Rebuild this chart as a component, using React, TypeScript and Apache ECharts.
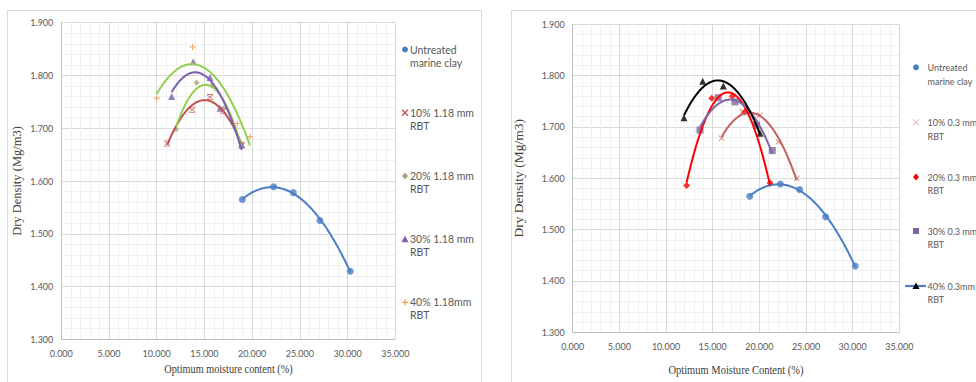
import React, { useEffect, useRef } from "react";
import * as echarts from "echarts";

// ---------- data ----------
const untreatedMoisture = [18.97, 22.25, 24.31, 27.1, 30.28];
const untreatedDensity = [1.565, 1.589, 1.578, 1.525, 1.429];

// left chart: 1.18 mm RBT
const l10Moisture = [11.1, 13.72, 15.58, 16.97, 18.9];
const l10Density = [1.671, 1.735, 1.759, 1.733, 1.668];
const l20Moisture = [12.02, 14.18, 15.8, 17.0, 18.9];
const l20Density = [1.698, 1.786, 1.781, 1.738, 1.67];
const l30Moisture = [11.56, 13.83, 15.58, 16.63, 18.9];
const l30Density = [1.76, 1.826, 1.796, 1.738, 1.668];
const l40Moisture = [10.0, 13.76, 15.75, 18.44, 19.77];
const l40Density = [1.757, 1.854, 1.781, 1.709, 1.684];

// right chart: 0.3 mm RBT
const r10Moisture = [15.96, 18.21, 20.07, 22.04, 24.0];
const r10Density = [1.678, 1.73, 1.723, 1.671, 1.6];
const r20Moisture = [12.21, 14.9, 17.1, 18.45, 21.15];
const r20Density = [1.586, 1.756, 1.76, 1.729, 1.591];
const r30Moisture = [13.64, 15.6, 17.39, 19.71, 21.39];
const r30Density = [1.694, 1.757, 1.749, 1.703, 1.654];
const r40Moisture = [11.93, 13.93, 16.14, 20.07];
const r40Density = [1.718, 1.789, 1.78, 1.688];

const leftLegend = [
  ["Untreated", "marine clay"],
  ["10% 1.18 mm", "RBT"],
  ["20% 1.18 mm", "RBT"],
  ["30% 1.18 mm", "RBT"],
  ["40% 1.18mm", "RBT"],
];
const rightLegend = [
  ["Untreated", "marine clay"],
  ["10% 0.3 mm", "RBT"],
  ["20% 0.3 mm", "RBT"],
  ["30% 0.3 mm", "RBT"],
  ["40% 0.3mm", "RBT"],
];
const leftXTitle = "Optimum moisture content (%)";
const rightXTitle = "Optimum Moisture Content (%)";
const yTitle = "Dry Density (Mg/m3)";

// ---------- helpers ----------
function zip(xs: number[], ys: number[]) {
  return xs.map((x, i) => [x, ys[i]]);
}

// least-squares polynomial trendline (as Excel's polynomial trendline)
function polyfit(xs: number[], ys: number[], deg: number) {
  const n = deg + 1;
  const A: number[][] = [];
  const b: number[] = [];
  for (let i = 0; i < n; i++) {
    A.push([]);
    for (let j = 0; j < n; j++) {
      let s = 0;
      for (const x of xs) s += Math.pow(x, i + j);
      A[i].push(s);
    }
    let t = 0;
    xs.forEach((x, k) => (t += ys[k] * Math.pow(x, i)));
    b.push(t);
  }
  for (let c = 0; c < n; c++) {
    let p = c;
    for (let r = c + 1; r < n; r++) if (Math.abs(A[r][c]) > Math.abs(A[p][c])) p = r;
    [A[c], A[p]] = [A[p], A[c]];
    [b[c], b[p]] = [b[p], b[c]];
    for (let r = c + 1; r < n; r++) {
      const f = A[r][c] / A[c][c];
      for (let k = c; k < n; k++) A[r][k] -= f * A[c][k];
      b[r] -= f * b[c];
    }
  }
  const coef = new Array(n).fill(0);
  for (let r = n - 1; r >= 0; r--) {
    let s = b[r];
    for (let k = r + 1; k < n; k++) s -= A[r][k] * coef[k];
    coef[r] = s / A[r][r];
  }
  return coef;
}
function trend(xs: number[], ys: number[], deg = 2) {
  const c = polyfit(xs, ys, deg);
  const lo = Math.min(...xs);
  const hi = Math.max(...xs);
  const out: number[][] = [];
  const steps = 80;
  for (let i = 0; i <= steps; i++) {
    const x = lo + ((hi - lo) * i) / steps;
    let y = 0;
    c.forEach((a, k) => (y += a * Math.pow(x, k)));
    out.push([x, y]);
  }
  return out;
}

const SYM_X = "path://M1,0L5,4L9,0L10,1L6,5L10,9L9,10L5,6L1,10L0,9L4,5L0,1Z";
const SYM_XBAR =
  "path://M0,0H10V1.3H0Z M0,8.7H10V10H0Z M1,1.3L5,4.2L9,1.3L10,2.3L6,5L10,7.7L9,8.7L5,5.8L1,8.7L0,7.7L4,5L0,2.3Z";
const SYM_PLUS = "path://M4,0H6V4H10V6H6V10H4V6H0V4H4Z";

const FONT = "Lato";
const LABEL_COLOR = "#595959";
const TITLE_COLOR = "#404040";
const BLUE = "#4a7ec3";

export default function App() {
  const ref = useRef<HTMLDivElement>(null);
  useEffect(() => {
    if (!ref.current) return;
    const chart = echarts.init(ref.current, undefined, { renderer: "svg" });

    const xAxisBase = (gridIndex: number) => ({
      type: "value",
      gridIndex,
      min: 0,
      max: 35,
      interval: 5,
      axisLine: { show: true, lineStyle: { color: "#bfbfbf" } },
      axisTick: { show: false },
      axisLabel: {
        formatter: (v: number) => v.toFixed(3),
        color: LABEL_COLOR,
        fontFamily: FONT,
        fontSize: 9,
        margin: 10,
      },
      splitLine: { show: true, lineStyle: { color: "#d9d9d9" } },
      minorTick: { show: false, splitNumber: 5 },
      minorSplitLine: { show: true, lineStyle: { color: "#f0f0f0" } },
    });
    const yAxisBase = (gridIndex: number, fs: number, gap: number) => ({
      type: "value",
      gridIndex,
      min: 1.3,
      max: 1.9,
      interval: 0.1,
      name: yTitle,
      nameLocation: "middle",
      nameGap: gap,
      nameRotate: 90,
      nameTextStyle: { fontFamily: "Liberation Serif", fontSize: fs, color: TITLE_COLOR },
      axisLine: { show: true, lineStyle: { color: "#bfbfbf" } },
      axisTick: { show: false },
      axisLabel: {
        formatter: (v: number) => v.toFixed(3),
        color: LABEL_COLOR,
        fontFamily: FONT,
        fontSize: 9,
        margin: 8,
      },
      splitLine: { show: true, lineStyle: { color: "#d9d9d9" } },
      minorTick: { show: false, splitNumber: 5 },
      minorSplitLine: { show: true, lineStyle: { color: "#f0f0f0" } },
    });

    const scatter = (idx: number, data: number[][], symbol: string, color: string, size = 6, name = "") => ({
      type: "scatter",
      name,
      xAxisIndex: idx,
      yAxisIndex: idx,
      data,
      symbol,
      symbolSize: size,
      itemStyle: { color },
      z: 3,
    });
    const line = (idx: number, data: number[][], color: string, width = 2) => ({
      type: "line",
      xAxisIndex: idx,
      yAxisIndex: idx,
      data,
      showSymbol: false,
      symbol: "none",
      lineStyle: { color, width },
      silent: true,
      z: 4,
    });

    // legend graphics
    const marker = (kind: string, cx: number, cy: number, color: string): any => {
      switch (kind) {
        case "circle":
          return { type: "circle", shape: { cx, cy, r: 3 }, style: { fill: color } };
        case "diamond":
          return { type: "polygon", shape: { points: [[cx, cy - 3.5], [cx + 3, cy], [cx, cy + 3.5], [cx - 3, cy]] }, style: { fill: color } };
        case "triangle":
          return { type: "polygon", shape: { points: [[cx, cy - 3.5], [cx + 3.5, cy + 3], [cx - 3.5, cy + 3]] }, style: { fill: color } };
        case "square":
          return { type: "rect", shape: { x: cx - 3, y: cy - 3, width: 6, height: 6 }, style: { fill: color } };
        case "x":
          return {
            type: "group",
            children: [
              { type: "line", shape: { x1: cx - 3, y1: cy - 3, x2: cx + 3, y2: cy + 3 }, style: { stroke: color, lineWidth: 1 } },
              { type: "line", shape: { x1: cx + 3, y1: cy - 3, x2: cx - 3, y2: cy + 3 }, style: { stroke: color, lineWidth: 1 } },
            ],
          };
        case "xbar":
          return {
            type: "group",
            children: [
              { type: "line", shape: { x1: cx - 3, y1: cy - 3, x2: cx + 3, y2: cy + 3 }, style: { stroke: color, lineWidth: 1.3 } },
              { type: "line", shape: { x1: cx + 3, y1: cy - 3, x2: cx - 3, y2: cy + 3 }, style: { stroke: color, lineWidth: 1.3 } },
            ],
          };
        case "plus":
          return {
            type: "group",
            children: [
              { type: "line", shape: { x1: cx - 3, y1: cy, x2: cx + 3, y2: cy }, style: { stroke: color, lineWidth: 1.2 } },
              { type: "line", shape: { x1: cx, y1: cy - 3, x2: cx, y2: cy + 3 }, style: { stroke: color, lineWidth: 1.2 } },
            ],
          };
        case "lineTriangle":
          return {
            type: "group",
            children: [
              { type: "line", shape: { x1: cx - 11, y1: cy, x2: cx + 10, y2: cy }, style: { stroke: BLUE, lineWidth: 2.2 } },
              { type: "polygon", shape: { points: [[cx, cy - 3.5], [cx + 3.5, cy + 3], [cx - 3.5, cy + 3]] }, style: { fill: "#000" } },
            ],
          };
      }
      return null;
    };
    const legendText = (x: number, y: number, lines: string[], lh: number, fs: number) =>
      lines.map((t, i) => ({
        type: "text",
        x,
        y: y + i * lh,
        style: { text: t, fill: LABEL_COLOR, font: `${fs}px ${FONT}`, verticalAlign: "middle", align: "left" },
      }));

    const leftKinds: [string, string][] = [
      ["circle", BLUE],
      ["xbar", "#c0504d"],
      ["diamond", "#aba27e"],
      ["triangle", "#7b5fb0"],
      ["plus", "#f79646"],
    ];
    const rightKinds: [string, string][] = [
      ["circle", BLUE],
      ["x", "#e3a1a0"],
      ["diamond", "#ff0000"],
      ["square", "#8064a2"],
      ["lineTriangle", "#000"],
    ];
    const leftY = [49.5, 112.7, 176, 239.3, 302.3];
    const rightY = [67.3, 122.3, 177, 231, 286];

    const graphics: any[] = [
      { type: "rect", shape: { x: 7.5, y: 10.5, width: 474, height: 390 }, style: { fill: "none", stroke: "#d9d9d9", lineWidth: 1 }, z: -10 },
      { type: "rect", shape: { x: 511.5, y: 10.5, width: 480, height: 390 }, style: { fill: "none", stroke: "#d9d9d9", lineWidth: 1 }, z: -10 },
      {
        type: "text",
        x: 228.5,
        y: 369,
        scaleX: 0.82,
        style: { text: leftXTitle, fill: TITLE_COLOR, font: "12.5px 'Liberation Serif'", align: "center", verticalAlign: "middle" },
      },
      {
        type: "text",
        x: 736,
        y: 369.5,
        scaleX: 0.81,
        style: { text: rightXTitle, fill: TITLE_COLOR, font: "13px 'Liberation Serif'", align: "center", verticalAlign: "middle" },
      },
    ];
    leftLegend.forEach((lines, i) => {
      graphics.push(marker(leftKinds[i][0], 405, leftY[i], leftKinds[i][1]));
      graphics.push(...legendText(410, leftY[i], lines, 13, 10.5));
    });
    rightLegend.forEach((lines, i) => {
      graphics.push(marker(rightKinds[i][0], 916, rightY[i], rightKinds[i][1]));
      graphics.push(...legendText(927.5, rightY[i], lines, 13.7, 9));
    });

    chart.setOption({
      animation: false,
      backgroundColor: "#ffffff",
      grid: [
        { left: 61.3, top: 22.7, width: 334, height: 316.6 },
        { left: 572.7, top: 24.3, width: 326.6, height: 308 },
      ],
      xAxis: [xAxisBase(0), xAxisBase(1)],
      yAxis: [yAxisBase(0, 12.5, 38), yAxisBase(1, 13.5, 47)],
      series: [
        // left chart
        line(0, trend(untreatedMoisture, untreatedDensity), BLUE),
        line(0, trend(l10Moisture, l10Density), "#c0504d"),
        line(0, trend(l20Moisture, l20Density), "#92d050"),
        line(0, trend(l30Moisture, l30Density), "#7b5fb0"),
        line(0, trend(l40Moisture, l40Density), "#92d050"),
        scatter(0, zip(untreatedMoisture, untreatedDensity), "circle", BLUE, 7, "Untreated marine clay"),
        scatter(0, zip(l10Moisture, l10Density), SYM_XBAR, "#c0504d", 6, "10% 1.18 mm RBT"),
        scatter(0, zip(l20Moisture, l20Density), "diamond", "#aba27e", 6, "20% 1.18 mm RBT"),
        scatter(0, zip(l30Moisture, l30Density), "triangle", "#7b5fb0", 7, "30% 1.18 mm RBT"),
        scatter(0, zip(l40Moisture, l40Density), SYM_PLUS, "#f79646", 6, "40% 1.18mm RBT"),
        // right chart
        line(1, trend(untreatedMoisture, untreatedDensity), BLUE),
        line(1, trend(r10Moisture, r10Density), "#c0605f"),
        line(1, trend(r20Moisture, r20Density), "#ff0000"),
        line(1, trend(r30Moisture, r30Density), "#8064a2"),
        line(1, trend(r40Moisture, r40Density), "#000000"),
        scatter(1, zip(untreatedMoisture, untreatedDensity), "circle", BLUE, 7, "Untreated marine clay"),
        scatter(1, zip(r10Moisture, r10Density), SYM_X, "#c0605f", 6, "10% 0.3 mm RBT"),
        scatter(1, zip(r20Moisture, r20Density), "diamond", "#ff0000", 7, "20% 0.3 mm RBT"),
        scatter(1, zip(r30Moisture, r30Density), "rect", "#8064a2", 7, "30% 0.3 mm RBT"),
        scatter(1, zip(r40Moisture, r40Density), "triangle", "#000000", 7, "40% 0.3mm RBT"),
      ],
      graphic: graphics,
    });
    return () => chart.dispose();
  }, []);

  return (
    <div
      ref={ref}
      style={{ position: "absolute", left: 0, top: 0, width: 976, height: 382, background: "#fff" }}
    />
  );
}
